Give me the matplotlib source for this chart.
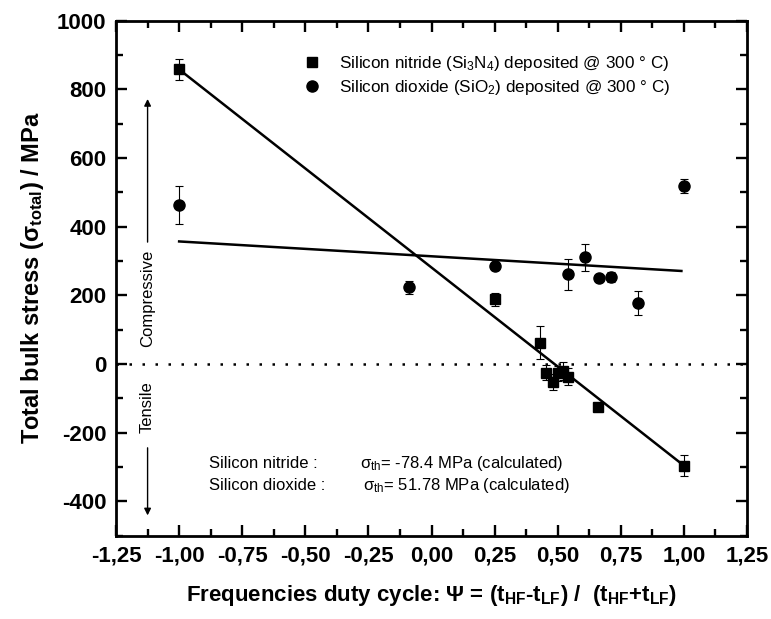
import numpy as np
import matplotlib
matplotlib.use("Agg")
import matplotlib.pyplot as plt
from matplotlib.ticker import MultipleLocator, FuncFormatter, FixedLocator
from matplotlib.lines import Line2D

plt.rcParams['font.family'] = ['Liberation Sans', 'DejaVu Sans']
plt.rcParams['mathtext.fontset'] = 'custom'
plt.rcParams['mathtext.rm'] = 'Liberation Sans'
plt.rcParams['mathtext.it'] = 'Liberation Sans'
plt.rcParams['mathtext.bf'] = 'Liberation Sans:bold'
plt.rcParams['mathtext.default'] = 'regular'
plt.rcParams['axes.unicode_minus'] = False

# silicon nitride (squares)
nitride_x = [-1.00, 0.25, 0.43, 0.455, 0.48, 0.50, 0.52, 0.54, 0.66, 1.00]
nitride_y = [858, 189, 62, -25, -52, -27, -20, -37, -125, -296]
nitride_err = [30, 19, 48, 22, 24, 22, 26, 24, 8, 31]

# silicon dioxide (circles)
oxide_x = [-1.00, -0.09, 0.25, 0.54, 0.61, 0.665, 0.71, 0.82, 1.00]
oxide_y = [463, 223, 286, 261, 311, 251, 254, 179, 518]
oxide_err = [55, 20, 12, 45, 40, 8, 15, 35, 20]

# linear fits
nitride_fit_x = [-1.0, 1.0]
nitride_fit_y = [858, -296]
oxide_fit_x = [-1.0, 0.99]
oxide_fit_y = [357, 271]

fig = plt.figure(figsize=(7.71, 6.19), dpi=100)
ax = fig.add_axes([0.1505, 0.1346, 0.8184, 0.832])

ax.errorbar(nitride_x, nitride_y, yerr=nitride_err, fmt='s', color='black',
            ms=7.5, capsize=3, elinewidth=0.8, capthick=0.8, zorder=3)
ax.errorbar(oxide_x, oxide_y, yerr=oxide_err, fmt='o', color='black',
            ms=8, capsize=3, elinewidth=0.8, capthick=0.8, zorder=3)
ax.plot(nitride_fit_x, nitride_fit_y, color='black', lw=1.8)
ax.plot(oxide_fit_x, oxide_fit_y, color='black', lw=1.8)
ax.axhline(0, color='black', lw=1.8, linestyle=(0, (1, 4.2)))

ax.set_xlim(-1.25, 1.25)
ax.set_ylim(-500, 1000)
ax.xaxis.set_major_locator(MultipleLocator(0.25))
ax.xaxis.set_minor_locator(MultipleLocator(0.125))
ax.yaxis.set_major_locator(FixedLocator(np.arange(-400, 1001, 200)))
ax.yaxis.set_minor_locator(FixedLocator(np.arange(-500, 1001, 200)))
ax.xaxis.set_major_formatter(FuncFormatter(
    lambda v, p: ("%.2f" % (0 if abs(v) < 1e-9 else v)).replace('.', ',')))

ax.tick_params(which='both', direction='in', top=True, right=True, width=1.7)
ax.tick_params(which='major', length=7.7, labelsize=16, pad=7)
ax.tick_params(which='minor', length=4.8)
for lab in ax.get_xticklabels() + ax.get_yticklabels():
    lab.set_fontweight('bold')
for s in ax.spines.values():
    s.set_linewidth(2)

ax.set_ylabel(r'Total bulk stress ($\sigma_{total}$) / MPa', fontsize=17,
              fontweight='bold', labelpad=8)
ax.set_xlabel(r'Frequencies duty cycle: $\Psi$ = (t$_{HF}$-t$_{LF}$) /  (t$_{HF}$+t$_{LF}$)',
              fontsize=16, fontweight='bold', labelpad=12)

# compressive / tensile arrows
ax.text(-1.125, 190, 'Compressive', rotation=90, ha='center', va='center', fontsize=12)
ax.text(-1.125, -125, 'Tensile', rotation=90, ha='center', va='center', fontsize=12)
ax.annotate('', xy=(-1.125, 780), xytext=(-1.125, 347),
            arrowprops=dict(arrowstyle='-|>', color='black', lw=1, mutation_scale=10))
ax.annotate('', xy=(-1.125, -449), xytext=(-1.125, -236),
            arrowprops=dict(arrowstyle='-|>', color='black', lw=1, mutation_scale=10))

# notes
ax.text(-0.88, -289, 'Silicon nitride :', fontsize=12, va='center')
ax.text(-0.88, -355, 'Silicon dioxide :', fontsize=12, va='center')
ax.text(-0.283, -289, r'$\sigma_{th}$= -78.4 MPa (calculated)', fontsize=12, va='center')
ax.text(-0.271, -355, r'$\sigma_{th}$= 51.78 MPa (calculated)', fontsize=12, va='center')

handles = [Line2D([], [], marker='s', ls='none', color='black', ms=7.5),
           Line2D([], [], marker='o', ls='none', color='black', ms=8)]
labels = [r'Silicon nitride (Si$_3$N$_4$) deposited @ 300 ° C)',
          r'Silicon dioxide (SiO$_2$) deposited @ 300 ° C)']
ax.legend(handles, labels, loc='upper left', bbox_to_anchor=(0.297, 0.935),
          frameon=False, fontsize=12.3, handlelength=1.0, handletextpad=1.1,
          labelspacing=0.3, borderpad=0, borderaxespad=0)

fig.savefig('out.png', dpi=100)
